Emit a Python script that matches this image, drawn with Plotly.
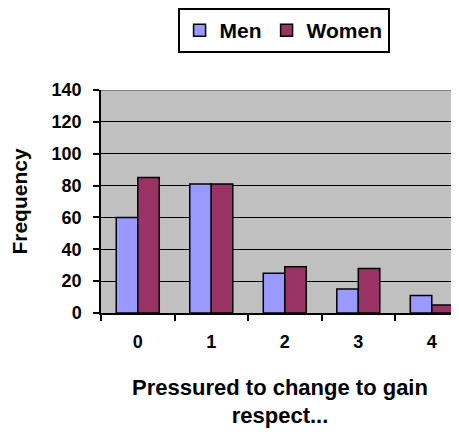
import plotly.graph_objects as go

categories = ["0", "1", "2", "3", "4"]
men = [60, 81, 25, 15, 11]
women = [85, 81, 29, 28, 5]
y_ticks = [0, 20, 40, 60, 80, 100, 120, 140]

FONT = "Liberation Sans, Arial, sans-serif"

fig = go.Figure()
fig.add_trace(go.Bar(name="Men", x=categories, y=men,
                     marker=dict(color="#9999FF", line=dict(color="black", width=1.5))))
fig.add_trace(go.Bar(name="Women", x=categories, y=women,
                     marker=dict(color="#993366", line=dict(color="black", width=1.5))))

fig.update_layout(
    width=451, height=424,
    margin=dict(l=93, r=0, t=82, b=119),
    paper_bgcolor="white", plot_bgcolor="#C0C0C0",
    barmode="group", bargap=0.415, bargroupgap=0,
    font=dict(family=FONT, size=18, color="black"),
    legend=dict(orientation="h", x=0.51, xanchor="center", y=1.0, yanchor="top",
                yref="container",
                bordercolor="black", borderwidth=2, bgcolor="white",
                font=dict(family=FONT, size=21, color="black", weight="bold")),
    xaxis=dict(type="category", range=[-0.5, 4.37],
               showline=True, linecolor="black", linewidth=1.5,
               ticks="outside", tickson="boundaries", ticklen=6, tickcolor="black", tickwidth=1.5,
               ticklabelstandoff=12,
               tickfont=dict(family=FONT, size=18, weight="bold"),
               showgrid=False,
               title=dict(text="Pressured to change to gain<br>respect...", standoff=28,
                          font=dict(family=FONT, size=22, weight="bold"))),
    yaxis=dict(range=[0, 140], tickvals=y_ticks,
               showline=True, linecolor="black", linewidth=1.5,
               ticks="outside", ticklen=6, tickcolor="black", tickwidth=1.5,
               ticklabelstandoff=8,
               tickfont=dict(family=FONT, size=18, weight="bold"),
               showgrid=True, gridcolor="black", gridwidth=1.2,
               zeroline=False,
               title=dict(text="Frequency", standoff=22,
                          font=dict(family=FONT, size=21, weight="bold"))),
)
fig.add_shape(type="line", xref="paper", yref="y", x0=0, x1=1, y0=140, y1=140,
              line=dict(color="#808080", width=2))

fig.write_html("out.html")
